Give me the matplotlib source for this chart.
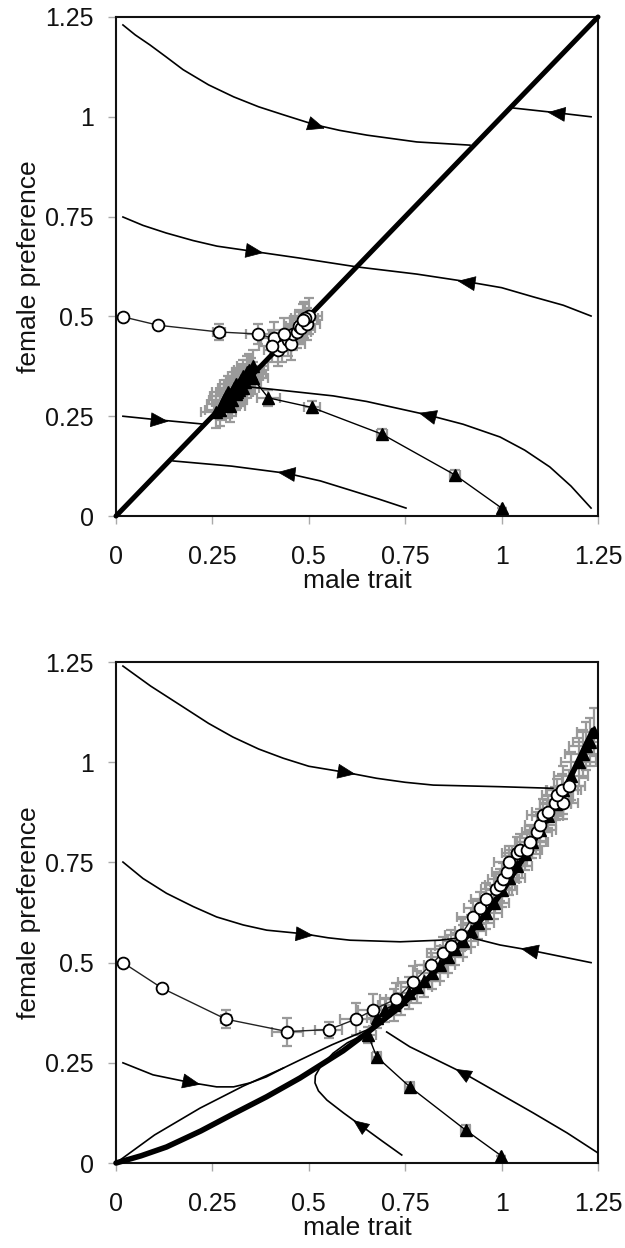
import numpy as np
import matplotlib
matplotlib.use("Agg")
import matplotlib.pyplot as plt
from matplotlib.ticker import FixedLocator, FixedFormatter

plt.rcParams['font.family'] = ['Liberation Sans', 'DejaVu Sans']

# ---------------- common ----------------
ticks = [0, 0.25, 0.5, 0.75, 1, 1.25]
tick_labels = ['0', '0.25', '0.5', '0.75', '1', '1.25']
xlabel = 'male trait'
ylabel = 'female preference'

# ---------------- TOP PANEL data ----------------
top_diag_x = [0.0, 1.25]
top_diag_y = [0.0, 1.25]

top_c1_x = [0.018, 0.05, 0.088, 0.13, 0.174, 0.24, 0.305, 0.37, 0.434, 0.516, 0.58, 0.651, 0.78, 0.918]
top_c1_y = [1.23, 1.205, 1.18, 1.15, 1.118, 1.08, 1.05, 1.025, 1.005, 0.98, 0.966, 0.954, 0.937, 0.929]
top_c2_x = [1.232, 1.144, 1.03]
top_c2_y = [1.0, 1.01, 1.022]
top_c3_x = [0.018, 0.07, 0.13, 0.2, 0.262, 0.355, 0.477, 0.625, 0.78, 0.91, 1.0, 1.082, 1.16, 1.232]
top_c3_y = [0.749, 0.728, 0.709, 0.69, 0.676, 0.663, 0.646, 0.624, 0.606, 0.587, 0.572, 0.549, 0.528, 0.501]
top_c4_x = [0.018, 0.109, 0.23]
top_c4_y = [0.25, 0.241, 0.23]
top_c5_x = [0.148, 0.3, 0.443, 0.53, 0.607, 0.68, 0.752]
top_c5_y = [0.138, 0.125, 0.107, 0.088, 0.065, 0.043, 0.02]
top_c6_x = [1.232, 1.18, 1.125, 1.06, 0.996, 0.9, 0.809, 0.72, 0.65, 0.563, 0.477, 0.4, 0.33]
top_c6_y = [0.02, 0.075, 0.123, 0.165, 0.198, 0.23, 0.253, 0.272, 0.287, 0.301, 0.31, 0.318, 0.325]

# arrows: (x, y, points_against_curve_order)
top_c1_arrows = [(0.516, 0.98, False)]
top_c2_arrows = [(1.144, 1.01, False)]
top_c3_arrows = [(0.355, 0.663, False), (0.91, 0.587, True)]
top_c4_arrows = [(0.109, 0.241, False)]
top_c5_arrows = [(0.443, 0.107, True)]
top_c6_arrows = [(0.809, 0.253, False)]

# open-circle simulation series
top_circ_x = [0.018, 0.109, 0.267, 0.367, 0.41, 0.42, 0.43, 0.445, 0.455, 0.46,
              0.47, 0.475, 0.48, 0.488, 0.495, 0.5, 0.49, 0.485, 0.405, 0.435]
top_circ_y = [0.499, 0.478, 0.461, 0.456, 0.445, 0.415, 0.425, 0.44, 0.43, 0.455,
              0.46, 0.475, 0.47, 0.49, 0.48, 0.5, 0.495, 0.49, 0.425, 0.455]
top_circ_xerr = [0, 0, 0.015, 0.03, 0.035, 0.035, 0.035, 0.035, 0.035, 0.035,
                 0.035, 0.035, 0.035, 0.035, 0.035, 0.035, 0.035, 0.035, 0.035, 0.035]
top_circ_yerr = [0, 0, 0.02, 0.025, 0.04, 0.04, 0.04, 0.04, 0.04, 0.04,
                 0.04, 0.04, 0.04, 0.045, 0.04, 0.045, 0.04, 0.04, 0.04, 0.04]

# filled-triangle simulation series
top_tri_x = [1.0, 0.879, 0.69, 0.508, 0.395, 0.355, 0.34, 0.33, 0.32, 0.31, 0.30,
             0.29, 0.28, 0.27, 0.285, 0.305, 0.325, 0.345, 0.355, 0.34, 0.315,
             0.295, 0.275, 0.30, 0.32, 0.335, 0.26, 0.31, 0.35, 0.29, 0.33]
top_tri_y = [0.02, 0.103, 0.205, 0.272, 0.296, 0.345, 0.35, 0.32, 0.33, 0.305, 0.31,
             0.285, 0.29, 0.265, 0.30, 0.32, 0.34, 0.365, 0.375, 0.36, 0.31,
             0.275, 0.28, 0.29, 0.315, 0.335, 0.26, 0.33, 0.355, 0.31, 0.35]
top_tri_xerr = [0, 0.012, 0.012, 0.02, 0.03] + [0.04] * 26
top_tri_yerr = [0, 0.012, 0.012, 0.015, 0.02] + [0.04] * 26

# ---------------- BOTTOM PANEL data ----------------
bot_thick_x = [0.0, 0.065, 0.131, 0.22, 0.303, 0.39, 0.477, 0.589, 0.65, 0.737, 0.823,
               0.909, 0.962, 1.0, 1.082, 1.17, 1.237]
bot_thick_y = [0.0, 0.018, 0.04, 0.08, 0.122, 0.165, 0.212, 0.28, 0.324, 0.39, 0.474,
               0.564, 0.625, 0.675, 0.8, 0.945, 1.08]

bot_c1_x = [0.018, 0.09, 0.174, 0.24, 0.303, 0.37, 0.434, 0.5, 0.594, 0.676, 0.75, 0.823, 0.996, 1.133]
bot_c1_y = [1.24, 1.19, 1.138, 1.097, 1.063, 1.033, 1.01, 0.99, 0.975, 0.96, 0.95, 0.943, 0.939, 0.935]
bot_c2_x = [0.018, 0.07, 0.131, 0.2, 0.261, 0.33, 0.391, 0.486, 0.55, 0.607, 0.737, 0.84, 0.884]
bot_c2_y = [0.751, 0.71, 0.673, 0.64, 0.614, 0.594, 0.581, 0.572, 0.562, 0.556, 0.552, 0.556, 0.561]
bot_c3_x = [1.232, 1.074, 0.996, 0.926]
bot_c3_y = [0.5, 0.531, 0.544, 0.561]
bot_c4_x = [0.018, 0.096, 0.192, 0.261, 0.305, 0.348, 0.39, 0.434]
bot_c4_y = [0.25, 0.22, 0.201, 0.19, 0.19, 0.2, 0.215, 0.237]
bot_c5_x = [0.0, 0.1, 0.218, 0.33, 0.434, 0.477, 0.56, 0.651]
bot_c5_y = [0.0, 0.07, 0.137, 0.192, 0.237, 0.257, 0.295, 0.332]
bot_c6_x = [0.741, 0.69, 0.633, 0.59, 0.547, 0.525, 0.516, 0.517, 0.53, 0.563, 0.6, 0.65]
bot_c6_y = [0.02, 0.055, 0.095, 0.125, 0.157, 0.18, 0.2, 0.218, 0.24, 0.274, 0.3, 0.324]
bot_c7_x = [1.25, 1.17, 1.082, 1.0, 0.9, 0.83, 0.762, 0.702]
bot_c7_y = [0.025, 0.075, 0.125, 0.17, 0.225, 0.258, 0.29, 0.327]

bot_c1_arrows = [(0.594, 0.975, False)]
bot_c2_arrows = [(0.486, 0.572, False)]
bot_c3_arrows = [(1.074, 0.531, False)]
bot_c4_arrows = [(0.192, 0.201, False)]
bot_c6_arrows = [(0.633, 0.095, False)]
bot_c7_arrows = [(0.9, 0.225, False)]

bot_circ_x = [0.018, 0.12, 0.285, 0.444, 0.552, 0.622, 0.667, 0.725, 0.771, 0.816,
              0.847, 0.868, 0.894, 0.925, 0.943, 0.96, 0.986, 0.996, 1.004, 1.014,
              1.019, 1.04, 1.048, 1.066, 1.074, 1.092, 1.1, 1.107, 1.12, 1.139,
              1.159, 1.144, 1.157, 1.175]
bot_circ_y = [0.5, 0.436, 0.359, 0.328, 0.333, 0.359, 0.382, 0.409, 0.452, 0.494,
              0.524, 0.542, 0.568, 0.613, 0.636, 0.658, 0.684, 0.694, 0.709, 0.726,
              0.751, 0.773, 0.781, 0.781, 0.801, 0.826, 0.843, 0.868, 0.876, 0.898,
              0.898, 0.918, 0.931, 0.941]
bot_circ_xerr = [0, 0, 0.012, 0.04, 0.035] + [0.04] * 29
bot_circ_yerr = [0, 0, 0.022, 0.035, 0.02] + [0.04] * 29

bot_tri_x = [0.999, 0.907, 0.762, 0.676, 0.654, 0.676, 0.697, 0.72, 0.74, 0.76, 0.78,
             0.80, 0.82, 0.84, 0.86, 0.88, 0.90, 0.92, 0.94, 0.96, 0.98, 1.0, 1.02,
             1.04, 1.06, 1.08, 1.10, 1.12, 1.14, 1.16, 1.18, 1.20, 1.22, 1.24, 1.23, 1.21]
bot_tri_y = [0.018, 0.082, 0.19, 0.265, 0.319, 0.361, 0.382, 0.395, 0.41, 0.425, 0.44,
             0.455, 0.475, 0.495, 0.515, 0.535, 0.555, 0.58, 0.6, 0.625, 0.65, 0.68,
             0.71, 0.74, 0.77, 0.80, 0.83, 0.865, 0.895, 0.93, 0.965, 1.0, 1.04, 1.075,
             1.05, 1.02]
bot_tri_xerr = [0, 0.012, 0.012, 0.012, 0.02, 0.025, 0.03] + [0.04] * 22 + [0.045] * 7
bot_tri_yerr = [0, 0.012, 0.012, 0.012, 0.02, 0.025, 0.03] + [0.04] * 22 + [0.06] * 7


# ---------------- helpers ----------------
LINE_W = 1.2
GRAY = '#9a9a9a'
# arrowhead shape in local coords (tip along +x), isosceles triangle
HEAD = np.array([[0.55, 0.0], [-0.45, 0.42], [-0.45, -0.42], [0.55, 0.0]])


def arrow_on(ax, xs, ys, arrows):
    """Filled arrowhead on a curve, oriented along the curve (screen space)."""
    xs = np.asarray(xs, float)
    ys = np.asarray(ys, float)
    for px, py, rev in arrows:
        best, bi = 1e9, 0
        for i in range(len(xs) - 1):
            ax_, ay_ = xs[i], ys[i]
            vx, vy = xs[i + 1] - ax_, ys[i + 1] - ay_
            t = np.clip(((px - ax_) * vx + (py - ay_) * vy) / (vx * vx + vy * vy), 0, 1)
            d = (ax_ + t * vx - px) ** 2 + (ay_ + t * vy - py) ** 2
            if d < best - 1e-12:
                best, bi = d, i
        p0 = ax.transData.transform((xs[bi], ys[bi]))
        p1 = ax.transData.transform((xs[bi + 1], ys[bi + 1]))
        dx, dy = p1[0] - p0[0], p1[1] - p0[1]
        if rev:
            dx, dy = -dx, -dy
        th = np.arctan2(dy, dx)
        rot = np.array([[np.cos(th), -np.sin(th)], [np.sin(th), np.cos(th)]])
        verts = HEAD @ rot.T
        ax.plot([px], [py], linestyle='none', marker=verts, ms=13,
                mfc='black', mec='black', mew=0.5, zorder=6)


def style_axes(ax):
    ax.set_xlim(0, 1.25)
    ax.set_ylim(0, 1.25)
    ax.xaxis.set_major_locator(FixedLocator(ticks))
    ax.xaxis.set_major_formatter(FixedFormatter(tick_labels))
    ax.yaxis.set_major_locator(FixedLocator(ticks))
    ax.yaxis.set_major_formatter(FixedFormatter(tick_labels))
    ax.tick_params(axis='both', direction='out', length=6, width=1.0,
                   color='#aaaaaa', labelsize=18, labelcolor='#111111')
    ax.tick_params(axis='x', pad=15)
    ax.tick_params(axis='y', pad=10)
    for s in ax.spines.values():
        s.set_linewidth(1.5)
        s.set_color('#111111')
    ax.set_xlabel(xlabel, fontsize=19, labelpad=0, color='#111111')
    ax.set_ylabel(ylabel, fontsize=19, labelpad=3, color='#111111')


fig = plt.figure(figsize=(6.25, 12.48), dpi=100)
ax1 = fig.add_axes([0.1856, 0.5865, 0.7712, 0.3999])
ax2 = fig.add_axes([0.1856, 0.0681, 0.7712, 0.4014])
style_axes(ax1)
style_axes(ax2)

EB = dict(fmt='none', ecolor=GRAY, elinewidth=1.6, capsize=3.5, capthick=1.6, zorder=2)

# ---------------- TOP ----------------
ax = ax1
curves = [(top_c1_x, top_c1_y, top_c1_arrows), (top_c2_x, top_c2_y, top_c2_arrows),
          (top_c3_x, top_c3_y, top_c3_arrows), (top_c4_x, top_c4_y, top_c4_arrows),
          (top_c5_x, top_c5_y, top_c5_arrows), (top_c6_x, top_c6_y, top_c6_arrows)]
for xs, ys, arr in curves:
    ax.plot(xs, ys, color='black', lw=LINE_W, zorder=3)
ax.errorbar(top_tri_x, top_tri_y, xerr=top_tri_xerr, yerr=top_tri_yerr, **EB)
ax.errorbar(top_circ_x, top_circ_y, xerr=top_circ_xerr, yerr=top_circ_yerr, **EB)
ax.plot(top_diag_x, top_diag_y, color='black', lw=3.6, zorder=4,
        solid_capstyle='round', clip_on=False)
ax.plot(top_tri_x, top_tri_y, color='black', lw=1.0, marker='^', ms=9,
        mfc='black', mec='black', zorder=5)
ax.plot(top_circ_x, top_circ_y, color='#222222', lw=1.0, marker='o', ms=8.5,
        mfc='white', mec='black', mew=1.3, zorder=5)
ax.set_xlim(0, 1.25)
ax.set_ylim(0, 1.25)
for xs, ys, arr in curves:
    arrow_on(ax, xs, ys, arr)

# ---------------- BOTTOM ----------------
ax = ax2
curves = [(bot_c1_x, bot_c1_y, bot_c1_arrows), (bot_c2_x, bot_c2_y, bot_c2_arrows),
          (bot_c3_x, bot_c3_y, bot_c3_arrows), (bot_c4_x, bot_c4_y, bot_c4_arrows),
          (bot_c5_x, bot_c5_y, []), (bot_c6_x, bot_c6_y, bot_c6_arrows),
          (bot_c7_x, bot_c7_y, bot_c7_arrows)]
for xs, ys, arr in curves:
    ax.plot(xs, ys, color='black', lw=LINE_W, zorder=3)
ax.errorbar(bot_tri_x, bot_tri_y, xerr=bot_tri_xerr, yerr=bot_tri_yerr, **EB)
ax.errorbar(bot_circ_x, bot_circ_y, xerr=bot_circ_xerr, yerr=bot_circ_yerr, **EB)
ax.plot(bot_thick_x, bot_thick_y, color='black', lw=4.0, zorder=4,
        solid_capstyle='round', clip_on=False)
ax.plot(bot_tri_x, bot_tri_y, color='black', lw=1.0, marker='^', ms=9,
        mfc='black', mec='black', zorder=5)
ax.plot(bot_circ_x, bot_circ_y, color='#222222', lw=1.0, marker='o', ms=8.5,
        mfc='white', mec='black', mew=1.3, zorder=5)
ax.set_xlim(0, 1.25)
ax.set_ylim(0, 1.25)
for xs, ys, arr in curves:
    arrow_on(ax, xs, ys, arr)

fig.savefig('out.png', dpi=100)
